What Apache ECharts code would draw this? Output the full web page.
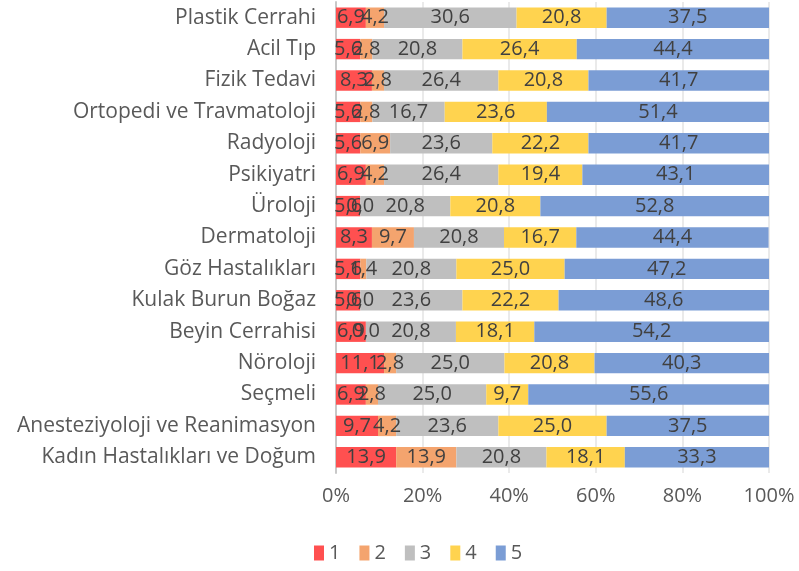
<!DOCTYPE html>
<html>
<head>
<meta charset="utf-8">
<script src="https://cdn.jsdelivr.net/npm/echarts@6/dist/echarts.min.js"></script>
<style>html,body{margin:0;padding:0;background:#fff}#c{width:799px;height:571px}</style>
</head>
<body>
<div id="c"></div>
<script>
var categories = ["Plastik Cerrahi","Acil Tıp","Fizik Tedavi","Ortopedi ve Travmatoloji","Radyoloji","Psikiyatri","Üroloji","Dermatoloji","Göz Hastalıkları","Kulak Burun Boğaz","Beyin Cerrahisi","Nöroloji","Seçmeli","Anesteziyoloji ve Reanimasyon","Kadın Hastalıkları ve Doğum"];
var s1 = [6.9,5.6,8.3,5.6,5.6,6.9,5.6,8.3,5.6,5.6,6.9,11.1,6.9,9.7,13.9];
var s2 = [4.2,2.8,2.8,2.8,6.9,4.2,0.0,9.7,1.4,0.0,0.0,2.8,2.8,4.2,13.9];
var s3 = [30.6,20.8,26.4,16.7,23.6,26.4,20.8,20.8,20.8,23.6,20.8,25.0,25.0,23.6,20.8];
var s4 = [20.8,26.4,20.8,23.6,22.2,19.4,20.8,16.7,25.0,22.2,18.1,20.8,9.7,25.0,18.1];
var s5 = [37.5,44.4,41.7,51.4,41.7,43.1,52.8,44.4,47.2,48.6,54.2,40.3,55.6,37.5,33.3];
var seriesNames = ["1","2","3","4","5"];
var colors = ["#FF5050","#F4A46E","#BFBFBF","#FFD34F","#7B9DD5"];
var xTicks = [0,20,40,60,80,100];

var font = "'Open Sans', sans-serif";
var data = [s1,s2,s3,s4,s5];
var series = data.map(function(d,i){
  return {
    name: seriesNames[i], type: 'bar', stack: 'total', data: d,
    barWidth: '65%',
    itemStyle: {color: colors[i]},
    label: {show: true, position: 'inside', color: '#404040', fontSize: 20, fontFamily: font,
      formatter: function(p){ return p.value.toFixed(1).replace('.', ','); }}
  };
});
var chart = echarts.init(document.getElementById('c'));
chart.setOption({
  animation: false,
  color: colors,
  grid: {left: 336, right: 30, top: 2, bottom: 98, containLabel: false},
  xAxis: {type: 'value', min: xTicks[0], max: xTicks[xTicks.length-1], interval: 20,
    axisLabel: {formatter: '{value}%', color: '#595959', fontSize: 20, fontFamily: font, margin: 13},
    splitLine: {lineStyle: {color: '#E3E3E3', width: 1.5}},
    axisLine: {show: false}, axisTick: {show: false}},
  yAxis: {type: 'category', data: categories, inverse: true,
    axisLabel: {color: '#595959', fontSize: 21, fontFamily: font, margin: 20},
    axisLine: {show: true, lineStyle: {color: '#C8C8C8', width: 2}},
    axisTick: {show: false}},
  legend: {bottom: 3, left: 309, itemWidth: 10, itemHeight: 15, itemGap: 19,
    icon: 'rect',
    textStyle: {color: '#595959', fontSize: 20, fontFamily: font},
    data: seriesNames},
  series: series
});
</script>
</body>
</html>
